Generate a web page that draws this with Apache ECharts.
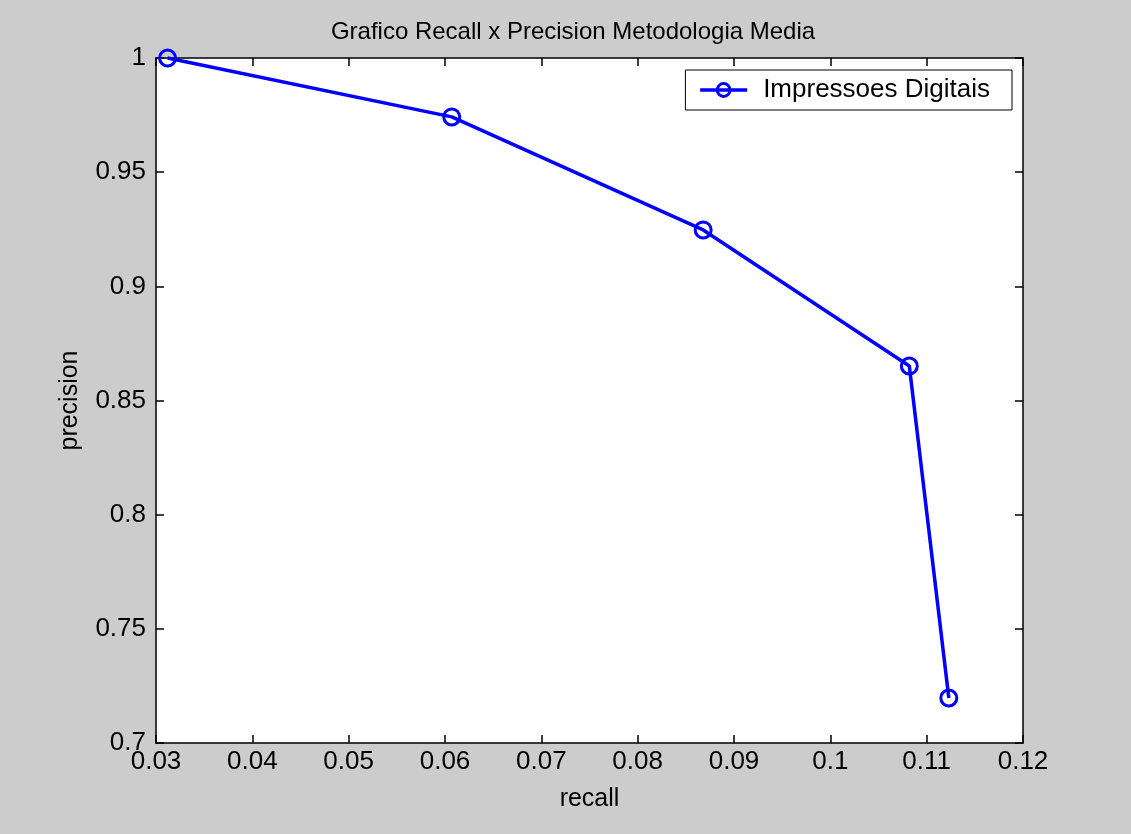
<!DOCTYPE html>
<html>
<head>
<meta charset="utf-8">
<script src="https://cdn.jsdelivr.net/npm/echarts@6/dist/echarts.min.js"></script>
<style>
  html, body { margin: 0; padding: 0; background: #cccccc; }
  #chart { width: 1131px; height: 834px; }
</style>
</head>
<body>
<div id="chart"></div>
<script>
// recall x precision points
const recall = [0.0312, 0.0607, 0.0868, 0.1082, 0.1123]
const precision = [1.0, 0.9742, 0.9247, 0.8651, 0.7197]
const seriesName = 'Impressoes Digitais'

const chart = echarts.init(document.getElementById('chart'))
const font = 'Arial, "Liberation Sans", sans-serif'
const pts = recall.map((r, i) => [r, precision[i]])

const axisCommon = {
  type: 'value',
  axisLine: { show: true, lineStyle: { color: '#000', width: 1.5 } },
  axisTick: { show: true, inside: true, length: 8, lineStyle: { color: '#000', width: 1.5 } },
  splitLine: { show: false }
}
const fmt = v => String(+v.toFixed(2))

chart.setOption({
  backgroundColor: '#cccccc',
  animation: false,
  title: {
    text: 'Grafico Recall x Precision Metodologia Media',
    left: 568, top: 15, textAlign: 'center',
    textStyle: { fontFamily: font, fontSize: 24, fontWeight: 'normal', color: '#000' }
  },
  legend: {
    data: [seriesName],
    right: 119, top: 70,
    backgroundColor: '#fff',
    borderColor: '#000', borderWidth: 1,
    padding: [7, 22, 7, 13],
    itemWidth: 47, itemHeight: 16,
    itemGap: 0,
    lineStyle: { width: 3.5, color: '#0000ff' },
    itemStyle: { color: 'rgba(0,0,0,0)', borderColor: '#0000ff', borderWidth: 3 },
    textStyle: { fontFamily: font, fontSize: 26, color: '#000', padding: [0, 0, 0, 11] }
  },
  grid: { left: 156, right: 108, top: 58, bottom: 91, backgroundColor: '#fff', show: true, borderWidth: 0 },
  xAxis: [
    Object.assign({}, axisCommon, {
      min: 0.03, max: 0.12, interval: 0.01,
      name: 'recall', nameLocation: 'middle', nameGap: 44,
      nameTextStyle: { fontFamily: font, fontSize: 25, color: '#000' },
      axisLabel: { fontFamily: font, fontSize: 26, color: '#000', margin: 6, formatter: fmt }
    }),
    Object.assign({}, axisCommon, {
      position: 'top', min: 0.03, max: 0.12, interval: 0.01,
      axisLabel: { show: false }
    })
  ],
  yAxis: [
    Object.assign({}, axisCommon, {
      min: 0.7, max: 1, interval: 0.05,
      name: 'precision', nameLocation: 'middle', nameGap: 73,
      nameTextStyle: { fontFamily: font, fontSize: 25, color: '#000' },
      axisLabel: { fontFamily: font, fontSize: 26, color: '#000', margin: 10, formatter: fmt }
    }),
    Object.assign({}, axisCommon, {
      position: 'right', min: 0.7, max: 1, interval: 0.05,
      axisLabel: { show: false }
    })
  ],
  series: [{
    name: seriesName,
    type: 'line',
    data: pts,
    clip: false,
    symbol: 'circle',
    symbolSize: 16,
    lineStyle: { color: '#0000ff', width: 3.5 },
    itemStyle: { color: 'rgba(0,0,0,0)', borderColor: '#0000ff', borderWidth: 3 }
  }]
})
</script>
</body>
</html>
